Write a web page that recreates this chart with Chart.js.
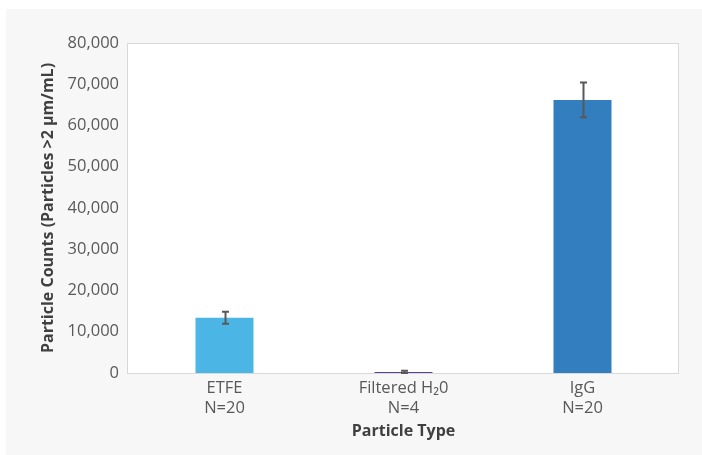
<!DOCTYPE html>
<html>
<head>
<meta charset="utf-8">
<script src="https://cdn.jsdelivr.net/npm/chart.js@4/dist/chart.umd.min.js"></script>
<style>
html,body{margin:0;padding:0;background:#fff;}
#wrap{width:702px;height:455px;position:relative;}
</style>
</head>
<body>
<div id="wrap"><canvas id="c" width="702" height="455"></canvas></div>
<script>
const categories = [["ETFE","N=20"],["Filtered H\u20820","N=4"],["IgG","N=20"]];
const counts = [13400, 250, 66200];
const errors = [1450, 300, 4200];
const barColors = ["#4bb5e6", "#5b3e9e", "#337ebf"];
const yTicks = [0,10000,20000,30000,40000,50000,60000,70000,80000];

const bgPlugin = {
  id: 'bg',
  beforeDraw(chart) {
    const ctx = chart.ctx, a = chart.chartArea;
    ctx.save();
    ctx.fillStyle = '#f7f7f7';
    ctx.fillRect(6, 9, chart.width - 6, chart.height - 9);
    ctx.fillStyle = '#ffffff';
    ctx.fillRect(a.left - 8, a.top, a.right - a.left + 15, a.bottom - a.top);
    ctx.restore();
  },
  afterDatasetsDraw(chart) {
    const ctx = chart.ctx, a = chart.chartArea;
    const x = chart.scales.x, y = chart.scales.y;
    ctx.save();
    ctx.strokeStyle = '#d9d9d9';
    ctx.lineWidth = 1;
    ctx.strokeRect(a.left - 8 + 0.5, a.top + 0.5, a.right - a.left + 15 - 1, a.bottom - a.top);
    ctx.strokeStyle = '#595959';
    ctx.lineWidth = 2;
    counts.forEach((v, i) => {
      const cx = Math.round(x.getPixelForValue(i)) + 0.5;
      const yt = y.getPixelForValue(v + errors[i]);
      const yb = y.getPixelForValue(Math.max(0, v - errors[i]));
      ctx.beginPath();
      ctx.moveTo(cx, yt); ctx.lineTo(cx, yb);
      ctx.moveTo(cx - 3.5, yt); ctx.lineTo(cx + 3.5, yt);
      ctx.moveTo(cx - 3.5, yb); ctx.lineTo(cx + 3.5, yb);
      ctx.stroke();
    });
    ctx.restore();
  }
};

new Chart(document.getElementById('c'), {
  type: 'bar',
  data: {
    labels: categories,
    datasets: [{
      data: counts,
      backgroundColor: barColors,
      borderWidth: 0,
      categoryPercentage: 1,
      barPercentage: 0.324
    }]
  },
  options: {
    responsive: false,
    animation: false,
    devicePixelRatio: 1,
    layout: { padding: { top: 43, right: 30, left: 0, bottom: 0 } },
    plugins: { legend: { display: false }, tooltip: { enabled: false } },
    scales: {
      x: {
        grid: { display: false, drawTicks: false },
        border: { display: false },
        ticks: {
          color: '#595959',
          font: { family: 'Open Sans', size: 16.5, lineHeight: 1.21 },
          padding: 5,
          maxRotation: 0
        },
        title: {
          display: true, text: 'Particle Type', color: '#404040',
          font: { family: 'Open Sans', size: 16, weight: 'bold' },
          padding: { top: 0, bottom: 14 }
        },
        afterFit(s) { s.height = 82; }
      },
      y: {
        min: 0, max: 80000,
        afterBuildTicks(s) { s.ticks = yTicks.map(v => ({ value: v })); },
        grid: { display: false, drawTicks: false },
        border: { display: false },
        ticks: {
          color: '#595959',
          font: { family: 'Open Sans', size: 16.5 },
          padding: 16,
          callback: v => v.toLocaleString('en-US')
        },
        title: {
          display: true, text: 'Particle Counts (Particles >2 \u00b5m/mL)', color: '#404040',
          font: { family: 'Open Sans', size: 16, weight: 'bold' },
          padding: { top: 38.5, bottom: 0 }
        },
        afterFit(s) { s.width = 135; }
      }
    }
  },
  plugins: [bgPlugin]
});
</script>
</body>
</html>
